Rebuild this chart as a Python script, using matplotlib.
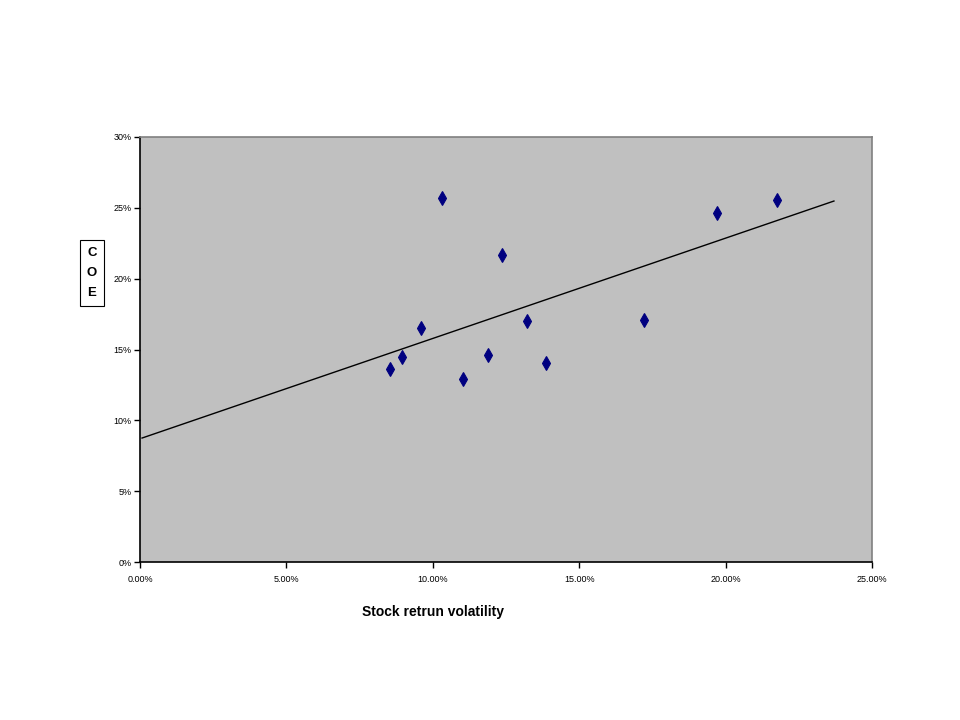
import matplotlib
matplotlib.use('Agg')
import matplotlib.pyplot as plt
from matplotlib.ticker import FuncFormatter, MultipleLocator

plt.rcParams['font.family'] = ['Liberation Sans Narrow', 'Liberation Sans', 'DejaVu Sans']

# データ (%)
volatility = [8.53, 8.94, 9.58, 10.33, 11.02, 11.90, 12.38, 13.23, 13.85, 17.22, 19.71, 21.76]
coe = [13.62, 14.47, 16.51, 25.69, 12.91, 14.61, 21.67, 17.01, 14.04, 17.08, 24.63, 25.55]

# トレンドライン
trend_x = [0.07, 23.7]
trend_y = [8.75, 25.48]

fig = plt.figure(figsize=(9.6, 7.2), dpi=100)
ax = fig.add_axes([140/960, 1 - 562/720, 732/960, 425/720])
ax.set_facecolor('#c0c0c0')

ax.plot(trend_x, trend_y, color='black', linewidth=1.0, zorder=2)
ax.plot(volatility, coe, linestyle='none', marker='d', color='#000080',
        markersize=7.5, markeredgewidth=0.8, zorder=3)

ax.set_xlim(0, 25)
ax.set_ylim(0, 30)
ax.xaxis.set_major_locator(MultipleLocator(5))
ax.yaxis.set_major_locator(MultipleLocator(5))
ax.xaxis.set_major_formatter(FuncFormatter(lambda v, p: f'{v:.2f}%'))
ax.yaxis.set_major_formatter(FuncFormatter(lambda v, p: f'{v:.0f}%'))
ax.tick_params(axis='both', direction='out', length=4, width=1, labelsize=6.5, pad=2)
ax.tick_params(axis='x', pad=5)

for side in ['left', 'bottom']:
    ax.spines[side].set_color('black')
    ax.spines[side].set_linewidth(1.2)
for side in ['top', 'right']:
    ax.spines[side].set_color('#808080')
    ax.spines[side].set_linewidth(1.2)

fig.text(433/960, 1 - 612/720, 'Stock retrun volatility', ha='center', va='center',
         fontsize=10, fontweight='bold')
fig.text(92/960, 1 - 273/720, 'C\nO\nE', ha='center', va='center', fontsize=9.5,
         fontweight='bold', linespacing=1.9,
         bbox=dict(boxstyle='square,pad=0.5', facecolor='white', edgecolor='black', linewidth=0.8))

fig.savefig('out.png', dpi=100)
